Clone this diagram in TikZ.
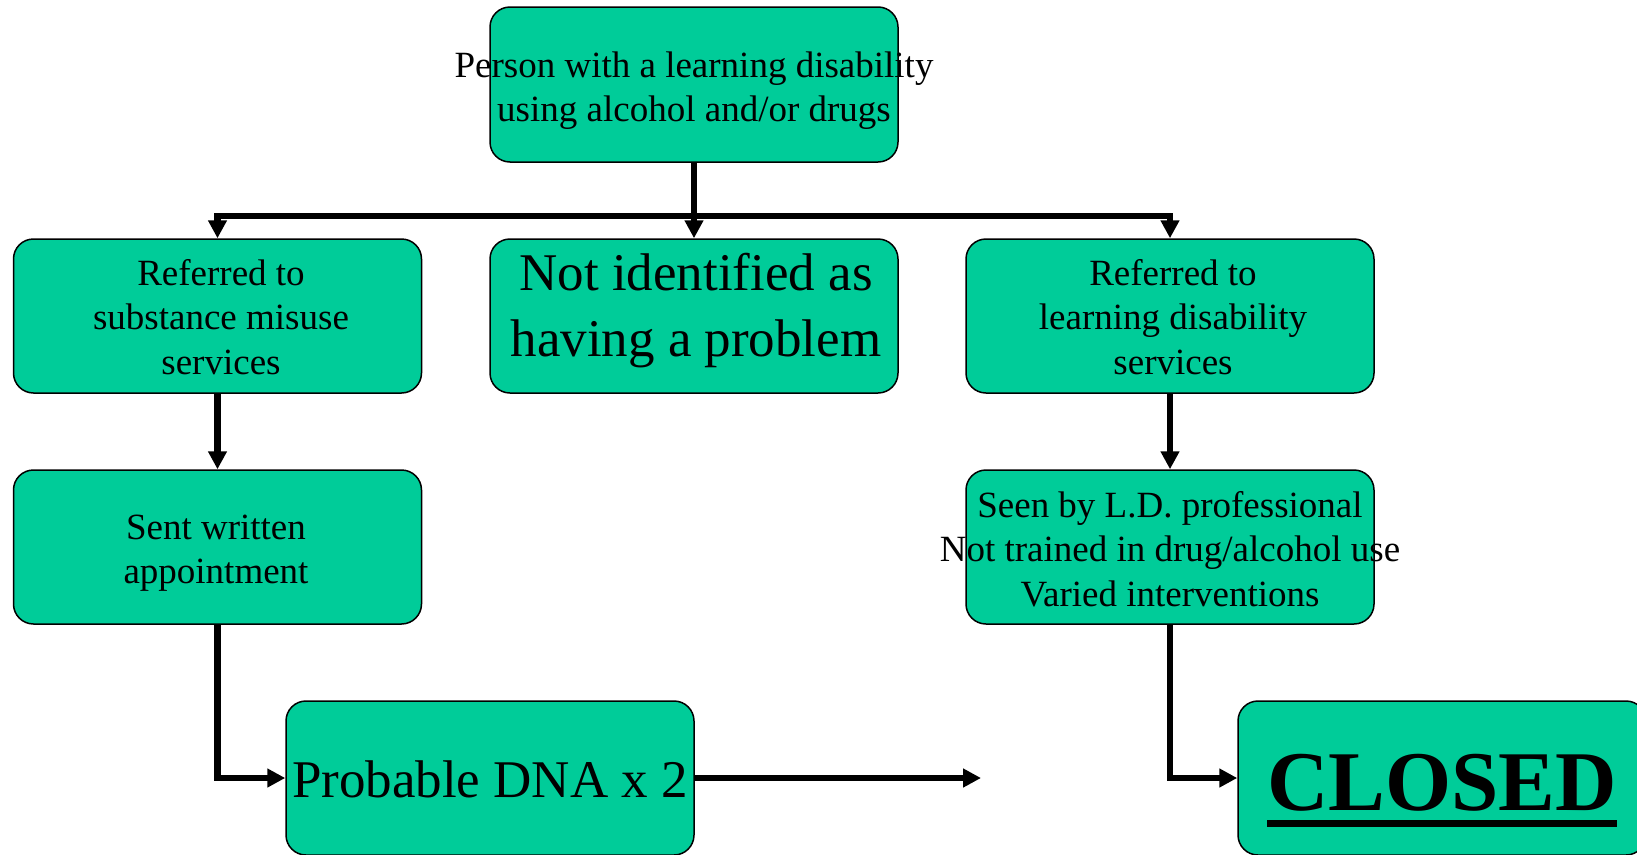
\documentclass[tikz,border=0pt]{standalone}
\usepackage{fontspec}
\setmainfont{Liberation Serif}
\usetikzlibrary{arrows.meta}
\definecolor{boxgreen}{HTML}{00CC99}
\newcommand\thickul[1]{\setbox0\hbox{#1}\rlap{\rule[-17pt]{\wd0}{7pt}}\box0}
\begin{document}
\begin{tikzpicture}[x=1pt,y=-1pt,
  box/.style={draw=black, line width=1.5pt, fill=boxgreen, rounded corners=20pt,
    minimum width=408pt, minimum height=154pt, inner sep=0pt},
  lbl/.style={align=center, inner sep=0pt, font=\fontsize{37}{44.5}\selectfont},
  biglbl/.style={align=center, inner sep=0pt, font=\fontsize{53}{66}\selectfont},
  wire/.style={line width=6.5pt},
  conn/.style={line width=6.5pt, -{Triangle[width=18pt,length=18pt]}},
]
\useasboundingbox (0,0) rectangle (1637,854);
% boxes
\node[box, minimum height=155pt] (top) at (694,84.5) {};
\node[box] (ref1) at (217.5,316) {};
\node[box] (mid) at (694,316) {};
\node[box] (ref2) at (1170,316) {};
\node[box] (sent) at (217.5,547) {};
\node[box] (seen) at (1170,547) {};
\node[box] (prob) at (490,778) {};
\node[box] (closed) at (1442,778) {};
% texts
\node[lbl] (toptext) at (694,90.5) {Person with a learning disability\\using alcohol and/or drugs};
\node[lbl] (ref1text) at (221,317) {Referred to\\substance misuse\\services};
\node[biglbl] (midtext) at (696,311) {Not identified as\\having a problem};
\node[lbl] (ref2text) at (1173,317) {Referred to\\learning disability\\services};
\node[lbl] (senttext) at (216,553) {Sent written\\appointment};
\node[lbl] (seentext) at (1170,549) {Seen by L.D. professional\\Not trained in drug/alcohol use\\Varied interventions};
\node[biglbl] (probtext) at (490,779) {Probable DNA x 2};
\node[inner sep=0pt, anchor=base, font=\bfseries\fontsize{85}{100}\selectfont] (closedtext) at (1442,810) {\thickul{CLOSED}};
% connectors
\coordinate (split) at (694,216);
\coordinate (hl) at (217.5,216);
\coordinate (hr) at (1170,216);
\coordinate (dnaend) at (981,778);
\draw[wire] (top.south) -- (split);
\draw[wire, line cap=rect] (hl) -- (hr);
\draw[conn] (hl) -- (ref1.north);
\draw[conn] (split) -- (mid.north);
\draw[conn] (hr) -- (ref2.north);
\draw[conn] (ref1.south) -- (sent.north);
\draw[conn] (ref2.south) -- (seen.north);
\draw[conn] (sent.south) |- (prob.west);
\draw[conn] (seen.south) |- (closed.west);
\draw[conn] (prob.east) -- (dnaend);
\end{tikzpicture}
\end{document}
